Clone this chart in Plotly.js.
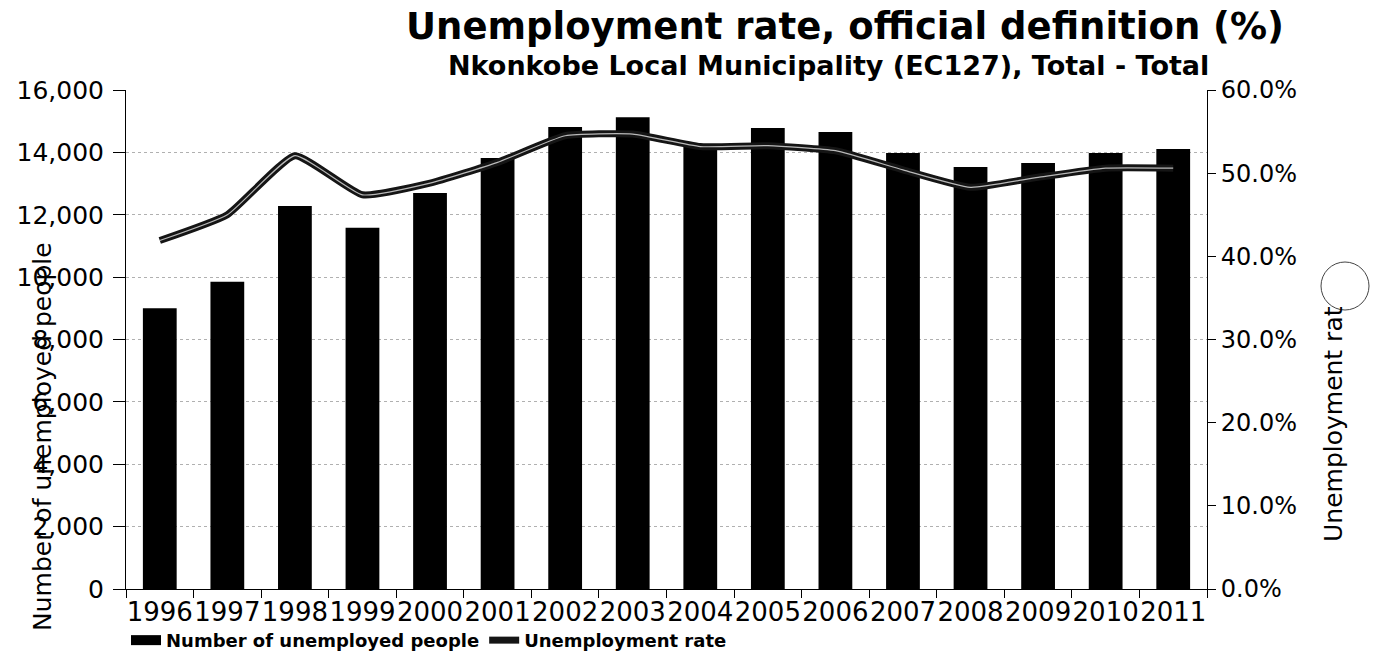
<!DOCTYPE html>
<html>
<head>
<meta charset="utf-8">
<script src="https://cdn.plot.ly/plotly-3.0.1.min.js"></script>
<style>html,body{margin:0;padding:0;background:#fff;}</style>
</head>
<body>
<div id="chart" style="width:1381px;height:664px;"></div>
<script>
const years = ['1996','1997','1998','1999','2000','2001','2002','2003','2004','2005','2006','2007','2008','2009','2010','2011'];
const unemployedPeople = [9000, 9850, 12280, 11580, 12700, 13820, 14810, 15130, 14200, 14780, 14650, 13980, 13530, 13660, 13980, 14110];
const unemploymentRate = [0.419, 0.450, 0.521, 0.474, 0.488, 0.513, 0.545, 0.547, 0.532, 0.533, 0.527, 0.504, 0.483, 0.495, 0.506, 0.506];
const leftTicks = [0, 2000, 4000, 6000, 8000, 10000, 12000, 14000, 16000];
const rightTicks = [0, 0.1, 0.2, 0.3, 0.4, 0.5, 0.6];

const FONT = 'DejaVu Sans, Verdana, sans-serif';
const W = 1381, H = 664;
const M = {l:126, r:174, t:90, b:75, autoexpand: false};
const pw = W - M.l - M.r, ph = H - M.t - M.b;
const px = x => (x - M.l) / pw;
const py = y => (H - M.b - y) / ph;

const traces = [
  {
    type: 'bar', name: 'Number of unemployed people', showlegend: false,
    x: years, y: unemployedPeople,
    marker: {color: '#000000', line: {width: 0}},
    yaxis: 'y'
  },
  {
    // legend entry for the bars (wide black swatch, as in the original)
    type: 'scatter', mode: 'lines', name: 'Number of unemployed people',
    x: [null], y: [null], yaxis: 'y', hoverinfo: 'skip',
    line: {color: '#000000', width: 10}
  },
  {
    type: 'scatter', mode: 'lines', name: 'Unemployment rate',
    x: years, y: unemploymentRate, yaxis: 'y2',
    line: {color: '#151515', width: 7, shape: 'spline', smoothing: 0.45}
  },
  {
    type: 'scatter', mode: 'lines', name: 'rate-highlight', showlegend: false,
    x: years, y: unemploymentRate, yaxis: 'y2', hoverinfo: 'skip',
    line: {color: 'rgba(255,255,255,0.7)', width: 1.2, shape: 'spline', smoothing: 0.45}
  }
];

const layout = {
  width: W, height: H,
  margin: M,
  paper_bgcolor: '#ffffff', plot_bgcolor: '#ffffff',
  font: {family: FONT, color: '#000'},
  bargap: 0.5,
  showlegend: true,
  legend: {
    orientation: 'h', x: 0, xanchor: 'left', y: -0.066, yanchor: 'top',
    font: {family: FONT, size: 18, weight: 'bold', color: '#000'},
    itemwidth: 30, tracegroupgap: 0, bgcolor: 'rgba(0,0,0,0)'
  },
  xaxis: {
    type: 'category', tickson: 'boundaries', ticks: 'outside', ticklen: 8,
    tickcolor: '#000', showline: true, linecolor: '#000', linewidth: 1,
    showgrid: false, tickangle: 0, automargin: false,
    tickfont: {family: FONT, size: 26, color: '#000'},
    fixedrange: true
  },
  yaxis: {
    range: [0, 16000], tickvals: leftTicks, tickformat: ',d',
    ticks: 'outside', ticklen: 12, tickcolor: '#000',
    showline: true, linecolor: '#000', linewidth: 1, automargin: false,
    showgrid: true, gridcolor: '#b0b0b0', griddash: 'dot', gridwidth: 1,
    zeroline: false, tickfont: {family: FONT, size: 25, color: '#000'},
    ticklabelstandoff: 4
  },
  yaxis2: {
    overlaying: 'y', side: 'right', range: [0, 0.6], tickvals: rightTicks,
    tickformat: '.1%', ticks: 'outside', ticklen: 8, tickcolor: '#000',
    showline: true, linecolor: '#000', linewidth: 1, showgrid: false, automargin: false,
    zeroline: false, tickfont: {family: FONT, size: 24, color: '#000'}
  },
  annotations: [
    {text: 'Unemployment rate, official definition (%)', xref: 'paper', yref: 'paper',
     x: px(845), y: py(26), xanchor: 'center', yanchor: 'middle', showarrow: false,
     font: {family: FONT, size: 37, weight: 'bold', color: '#000'}},
    {text: 'Nkonkobe Local Municipality (EC127), Total - Total', xref: 'paper', yref: 'paper',
     x: px(828), y: py(66), xanchor: 'center', yanchor: 'middle', showarrow: false,
     font: {family: FONT, size: 27, weight: 'bold', color: '#000'}},
    {text: 'Number of unemployed people', xref: 'paper', yref: 'paper',
     x: px(43), y: py(437), xanchor: 'center', yanchor: 'middle', textangle: -90, showarrow: false,
     font: {family: FONT, size: 25, color: '#000'}},
    {text: 'Unemployment rat', xref: 'paper', yref: 'paper',
     x: px(1333), y: py(424), xanchor: 'center', yanchor: 'middle', textangle: -90, showarrow: false,
     font: {family: FONT, size: 25, color: '#000'}}
  ],
  shapes: [
    {type: 'circle', xref: 'paper', yref: 'paper', layer: 'above',
     x0: px(1321), x1: px(1369), y0: py(310), y1: py(262),
     line: {color: '#444', width: 1}, fillcolor: 'rgba(255,255,255,0)'}
  ]
};

Plotly.newPlot('chart', traces, layout, {displayModeBar: false, staticPlot: true});
</script>
</body>
</html>
